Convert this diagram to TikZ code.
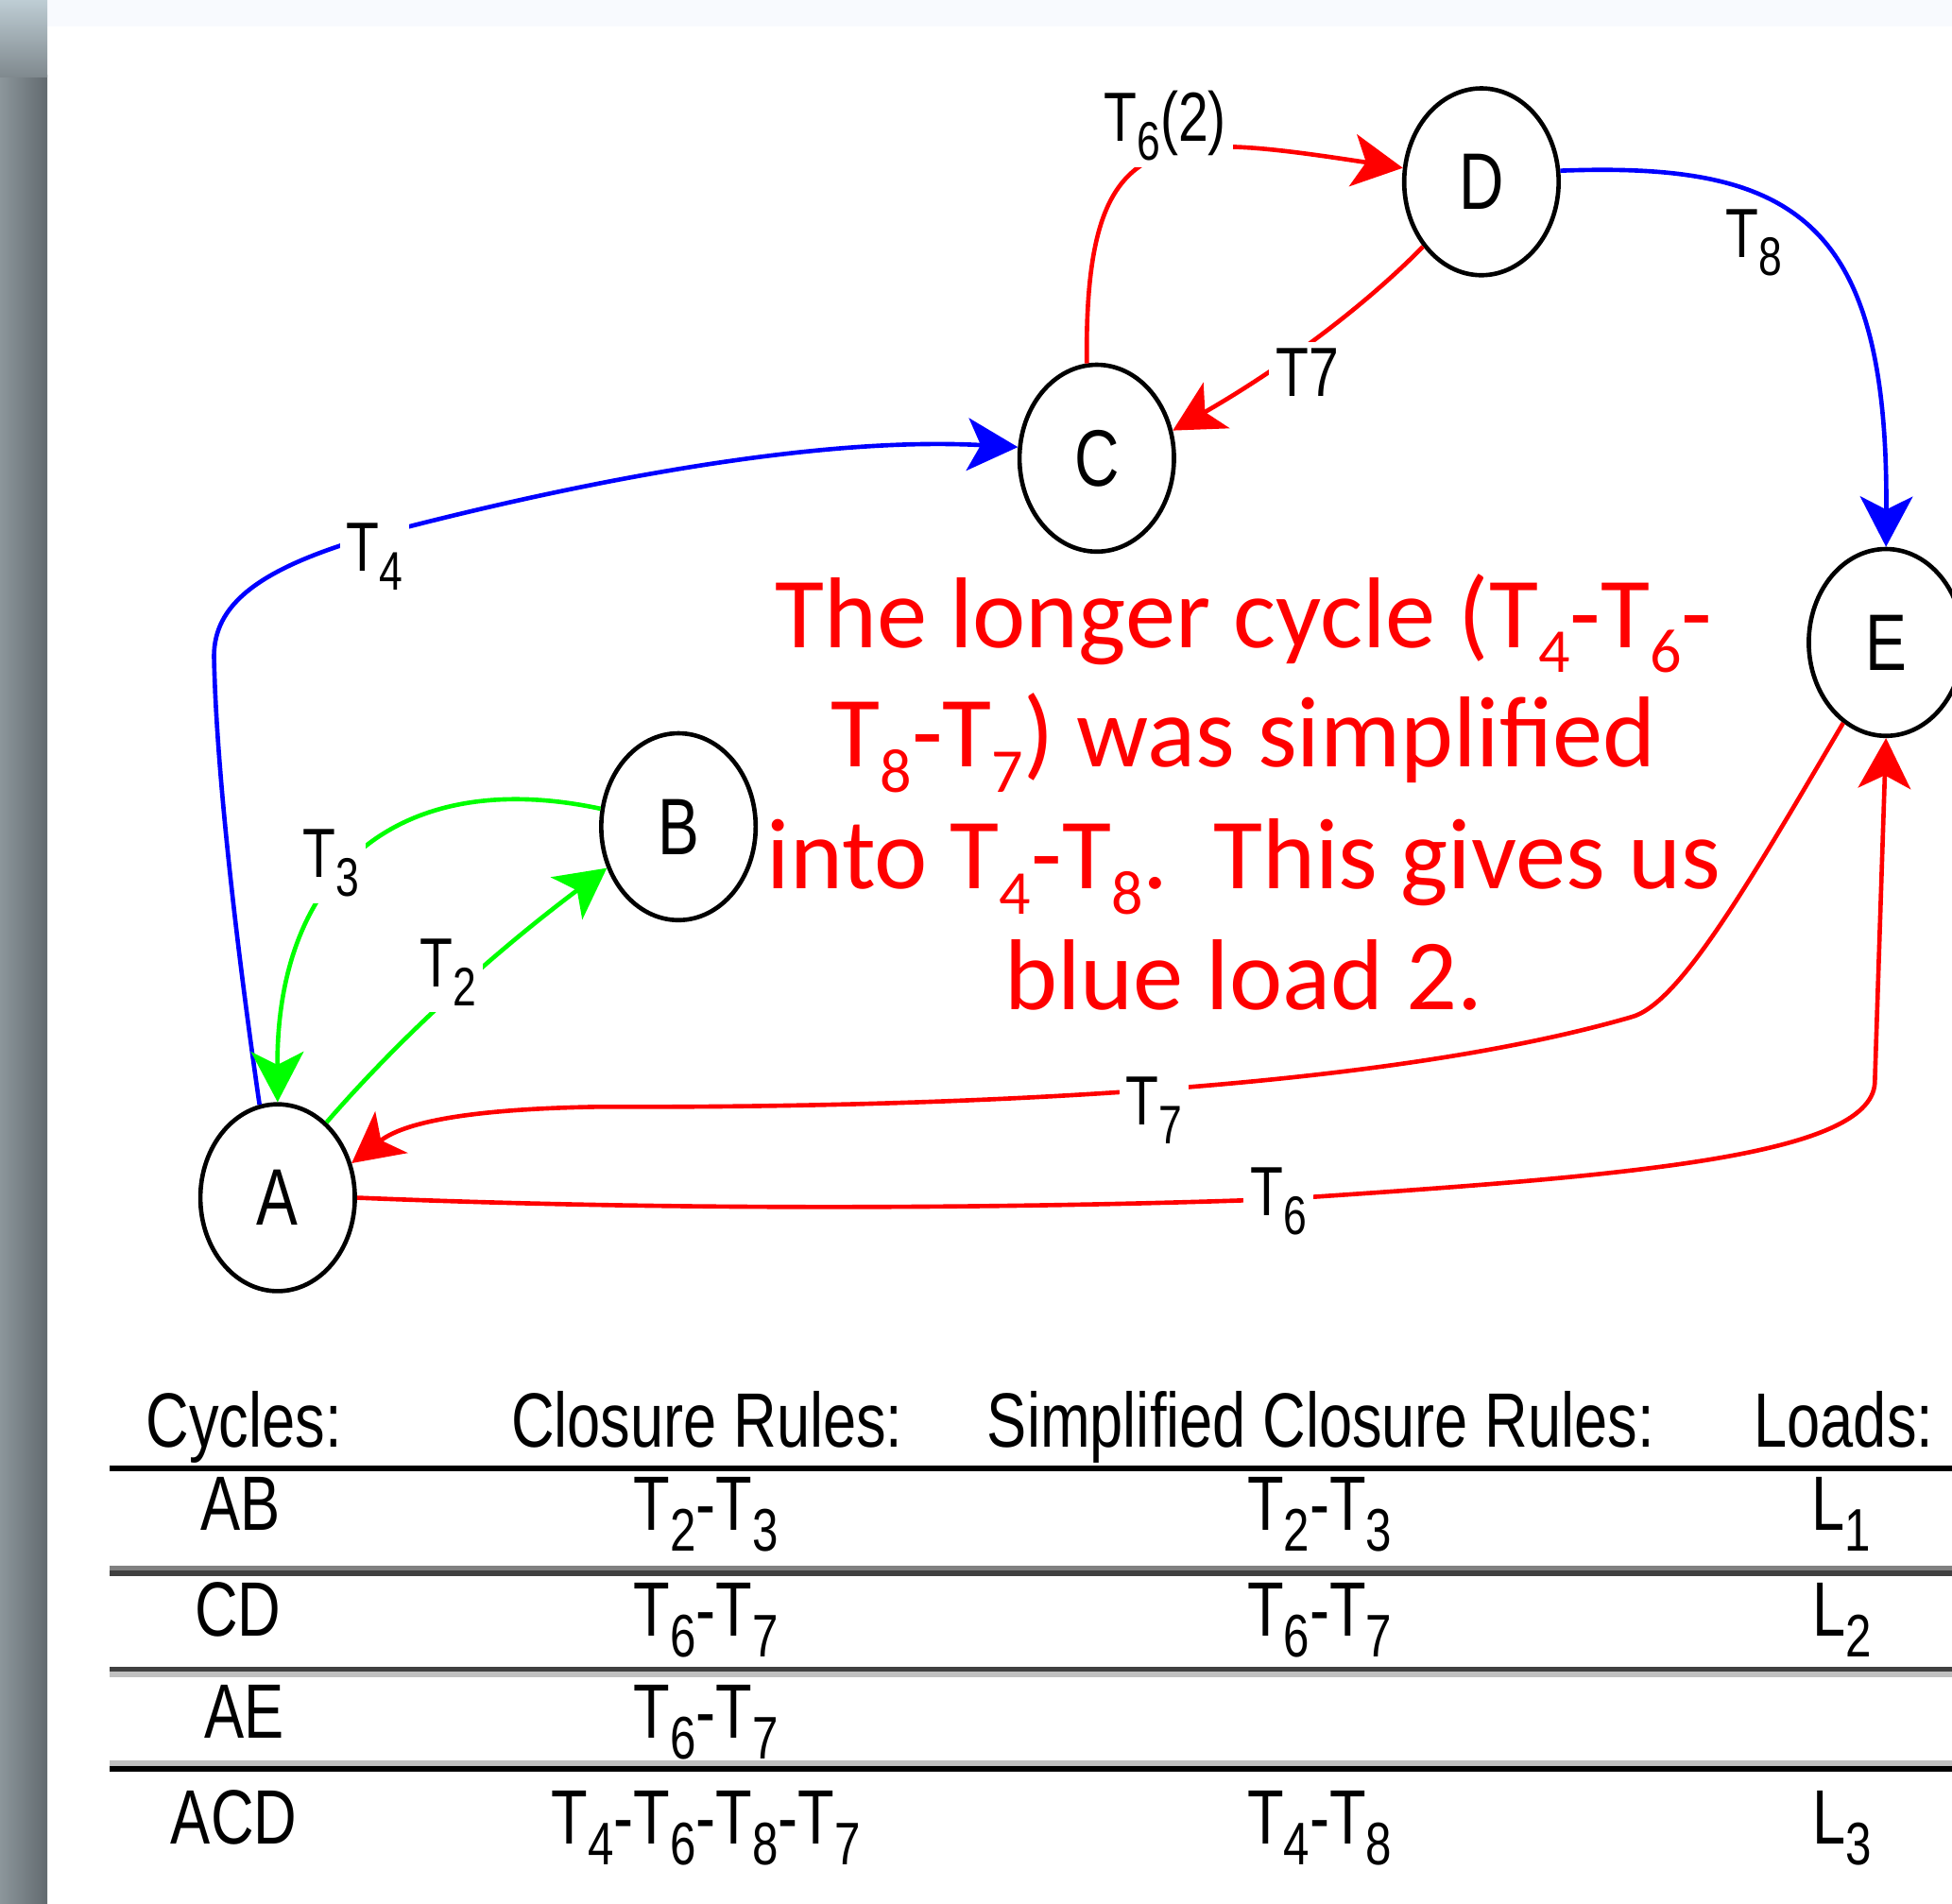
\documentclass[tikz,border=0pt]{standalone}
\usepackage{fontspec}
\usepackage{graphicx}
\usetikzlibrary{arrows.meta,shapes.geometric}

\newfontfamily\narrowfont[FakeStretch=0.775]{Liberation Sans}
\newfontfamily\notefont{Carlito}

% lowered, smaller index for labels and table entries
\newcommand\lsub[1]{\raisebox{-0.27em}{\scalebox{0.78}{#1}}}
% index inside the red note
\newcommand\nsub[1]{\raisebox{-0.25em}{\scalebox{0.62}{#1}}}

\definecolor{edgered}{RGB}{255,0,0}
\definecolor{edgegreen}{RGB}{0,255,0}
\definecolor{edgeblue}{RGB}{0,0,255}
\definecolor{topband}{RGB}{248,250,254}
\definecolor{stripleft}{RGB}{140,150,155}
\definecolor{stripright}{RGB}{98,106,111}
\definecolor{striptop}{RGB}{190,205,212}
\definecolor{rulemid}{RGB}{128,128,128}
\definecolor{ruledark}{RGB}{64,64,64}
\definecolor{rulelight}{RGB}{192,192,192}

\begin{document}
\begin{tikzpicture}[x=0.01cm,y=-0.01cm,
  state/.style={draw=black, line width=1pt, ellipse, minimum width=1.24cm,
    minimum height=1.5cm, inner sep=0pt,
    font=\narrowfont\fontsize{18.3}{20}\selectfont},
  edge/.style={line width=1pt, -{Stealth[length=11.5pt,width=12pt,inset=3pt]}},
  lbl/.style={fill=white, inner sep=1.5pt,
    font=\narrowfont\fontsize{15.9}{18}\selectfont},
  note/.style={text=edgered, anchor=base, inner sep=0pt,
    font=\notefont\fontsize{23}{27.6}\selectfont},
  cell/.style={anchor=base, inner sep=0pt,
    font=\narrowfont\fontsize{17.6}{20}\selectfont}]

\useasboundingbox (0,0) rectangle (1568,1529);

% page background, window band and side bar
\fill[white] (0,0) rectangle (1568,1529);
\fill[topband] (38,0) rectangle (1568,21);
\shade[left color=stripleft, right color=stripright] (0,60) rectangle (38,1529);
\shade[top color=striptop, bottom color=stripleft!70!stripright] (0,0) rectangle (38,62);

% states
\node[state] (A) at (223,962) {A};
\node[state] (B) at (545,664) {B};
\node[state] (C) at (881,368) {C};
\node[state] (D) at (1190,146) {D};
\node[state] (E) at (1515,516) {E};

% transitions
\draw[edge, edgeblue] (A.101) .. controls (190,760) and (174,620) .. (172,531)
  .. controls (170,490) and (200,460) .. (290,433)
  .. controls (450,390) and (650,350) .. (C.172);
\draw[edge, edgegreen] (B.167) .. controls (320,615) and (222,700) .. (A.north);
\draw[edge, edgegreen] (A.57) .. controls (320,835) and (393,768) .. (B.210);
\draw[edge, edgered] (C.96) .. controls (871,100) and (930,105) .. (D.170);
\draw[edge, edgered] (D.228) .. controls (1094,248) and (1027,297) .. (C.20);
\draw[edge, edgeblue] (D.8) .. controls (1440,130) and (1517,175) .. (E.north);
\draw[edge, edgered] (E.242) .. controls (1405,709) and (1349,807) .. (1310,817)
  .. controls (1120,872) and (800,890) .. (480,889)
  .. controls (360,891) and (320,905) .. (A.25);
\draw[edge, edgered] (A.east) .. controls (600,975) and (900,968) .. (1030,963)
  .. controls (1300,945) and (1502,930) .. (1506,870) -- (E.south);

% transition labels
\node[lbl] (l4) at (301,447) {T\lsub{4}};
\node[lbl] (l3) at (266,693) {T\lsub{3}};
\node[lbl] (l2) at (360,781) {T\lsub{2}};
\node[lbl] (l62) at (936,101) {T\lsub{6}(2)};
\node[lbl] (l7a) at (1050,299) {T7};
\node[lbl, fill=none] (l8) at (1409,195) {T\lsub{8}};
\node[lbl] (l7b) at (927,892) {T\lsub{7}};
\node[lbl] (l6) at (1027,965) {T\lsub{6}};

% explanatory note
\node[note] (n1) at (999,520) {The longer cycle (T\nsub{4}-T\nsub{6}-};
\node[note] (n2) at (999,616) {T\nsub{8}-T\nsub{7}) was simplified};
\node[note] (n3) at (999,714) {into T\nsub{4}-T\nsub{8}.\ \ This gives us};
\node[note] (n4) at (999,811) {blue load 2.};

% table header
\node[cell] (h1) at (196,1162) {Cycles:};
\node[cell] (h2) at (568,1162) {Closure Rules:};
\node[cell] (h3) at (1061,1162) {Simplified Closure Rules:};
\node[cell] (h4) at (1481,1162) {Loads:};

% table rules
\fill[black] (88,1177) rectangle (1568,1181.5);
\fill[rulemid] (88,1257.6) rectangle (1568,1261.4);
\fill[ruledark] (88,1261.4) rectangle (1568,1266);
\fill[ruledark] (88,1338.8) rectangle (1568,1342.6);
\fill[rulelight] (88,1342.6) rectangle (1568,1347);
\fill[rulelight] (88,1414) rectangle (1568,1418.5);
\fill[black] (88,1418.5) rectangle (1568,1423);

% table rows
\node[cell] (r1a) at (193,1229) {AB};
\node[cell] (r1b) at (567,1229) {T\lsub{2}-T\lsub{3}};
\node[cell] (r1c) at (1060,1229) {T\lsub{2}-T\lsub{3}};
\node[cell] (r1d) at (1479,1229) {L\lsub{1}};

\node[cell] (r2a) at (191,1314) {CD};
\node[cell] (r2b) at (567,1314) {T\lsub{6}-T\lsub{7}};
\node[cell] (r2c) at (1060,1314) {T\lsub{6}-T\lsub{7}};
\node[cell] (r2d) at (1480,1314) {L\lsub{2}};

\node[cell] (r3a) at (196,1396) {AE};
\node[cell] (r3b) at (567,1396) {T\lsub{6}-T\lsub{7}};

\node[cell] (r4a) at (188,1481) {ACD};
\node[cell] (r4b) at (567,1481) {T\lsub{4}-T\lsub{6}-T\lsub{8}-T\lsub{7}};
\node[cell] (r4c) at (1060,1481) {T\lsub{4}-T\lsub{8}};
\node[cell] (r4d) at (1480,1481) {L\lsub{3}};
\end{tikzpicture}
\end{document}
